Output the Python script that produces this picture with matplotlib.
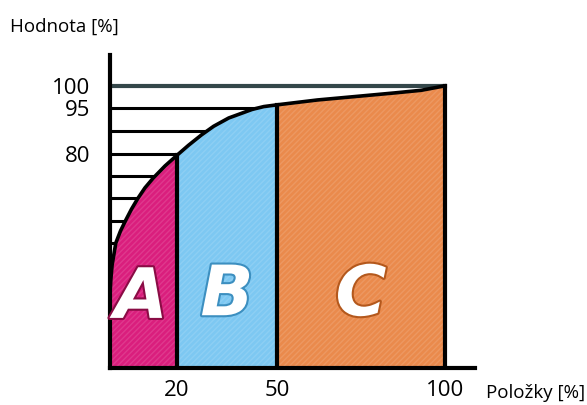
import numpy as np
import matplotlib
matplotlib.use("Agg")
import matplotlib.pyplot as plt
import matplotlib.patheffects as pe

# cumulative curve (x = items %, y = value %)
curve_x = [0, 0.3, 0.7, 1.8, 3.2, 4.8, 6.5, 8.4, 10.5, 13, 16.5, 20,
           23.5, 27.4, 31, 35.5, 42.5, 46, 50, 62, 75, 85, 93, 100]
curve_y = [26.6, 32.9, 38.5, 46.7, 51.2, 55.3, 59.4, 63.4, 67.3, 71.0, 75.5, 79.4,
           82.8, 86.2, 89.0, 91.7, 94.5, 95.3, 95.7, 96.8, 97.7, 98.4, 99.0, 100]

# horizontal guide lines
levels = [100, 95, 87.5, 80, 71.8, 63.6, 54.9, 46.7]

# the drawing's vertical axis is not linear: value -> height
scale_vals = [0, 80, 95, 100, 120]
scale_pos = [0, 0.759, 0.922, 1.0, 1.312]

groups = ["A", "B", "C"]
bounds = [0, 20, 50, 100]
colors = ["#DA1E7D", "#7DC8F2", "#EA8A4C"]
label_x = [9.3, 35, 75]
label_y = [26, 27, 27]
edge_cols = ["#8a0c45", "#3c8fc0", "#b4581c"]

xticks = [20, 50, 100]
yticks = [100, 95, 80]


def fwd(v):
    return np.interp(v, scale_vals, scale_pos)


def inv(p):
    return np.interp(p, scale_pos, scale_vals)


fig = plt.figure(figsize=(5.87, 4.05), dpi=100)
ax = fig.add_axes([0.187, 0.0914, 0.622, 0.7726])
ax.set_yscale("function", functions=(fwd, inv))
ax.set_xlim(0, 109)
ax.set_ylim(0, 107)

cx = np.array(curve_x)
cy = np.array(curve_y)

# guide lines from the axis to the curve
for i, lv in enumerate(levels):
    xe = np.interp(lv, cy, cx)
    if i == 0:
        ax.plot([0, 100], [lv, lv], color="#34474a", lw=3, zorder=1)
    else:
        ax.plot([0, xe], [lv, lv], color="black", lw=2.2, zorder=1)

# coloured areas
for i in range(3):
    m = (cx >= bounds[i]) & (cx <= bounds[i + 1])
    ax.fill_between(cx[m], 0, cy[m], color=colors[i], lw=0, zorder=2)
    ax.fill_between(cx[m], 0, cy[m], facecolor="none", edgecolor="white",
                    hatch="//////", lw=0, alpha=0.12, zorder=2)

# borders between groups
for b in bounds[1:]:
    ax.plot([b, b], [0, np.interp(b, cx, cy)], color="black", lw=3, zorder=3)
ax.plot(cx, cy, color="black", lw=2.6, zorder=4, solid_joinstyle="round")

for g, x, y, ec in zip(groups, label_x, label_y, edge_cols):
    ax.text(x, y, g, color="white", fontsize=50, fontweight="bold",
            fontstyle="italic", family="DejaVu Sans", ha="center", va="center",
            zorder=5,
            path_effects=[pe.withStroke(linewidth=3, foreground=ec)])

for s in ["top", "right"]:
    ax.spines[s].set_visible(False)
for s in ["left", "bottom"]:
    ax.spines[s].set_linewidth(3)
    ax.spines[s].set_color("black")

ax.set_xticks(xticks)
ax.set_xticklabels([str(t) for t in xticks], family="Open Sans", fontsize=16)
ax.set_yticks(yticks)
ax.set_yticklabels([str(t) for t in yticks], family="Open Sans", fontsize=16)
ax.tick_params(axis="x", length=0, pad=9)
ax.tick_params(axis="y", length=0, pad=14)
ax.minorticks_off()

ax.text(-0.123, 1.089, "Hodnota [%]", transform=ax.transAxes, ha="center",
        va="center", family="Open Sans", fontsize=13.5)
ax.text(1.167, -0.08, "Položky [%]", transform=ax.transAxes, ha="center",
        va="center", family="Open Sans", fontsize=13.5)

fig.savefig("out.png", dpi=100)
